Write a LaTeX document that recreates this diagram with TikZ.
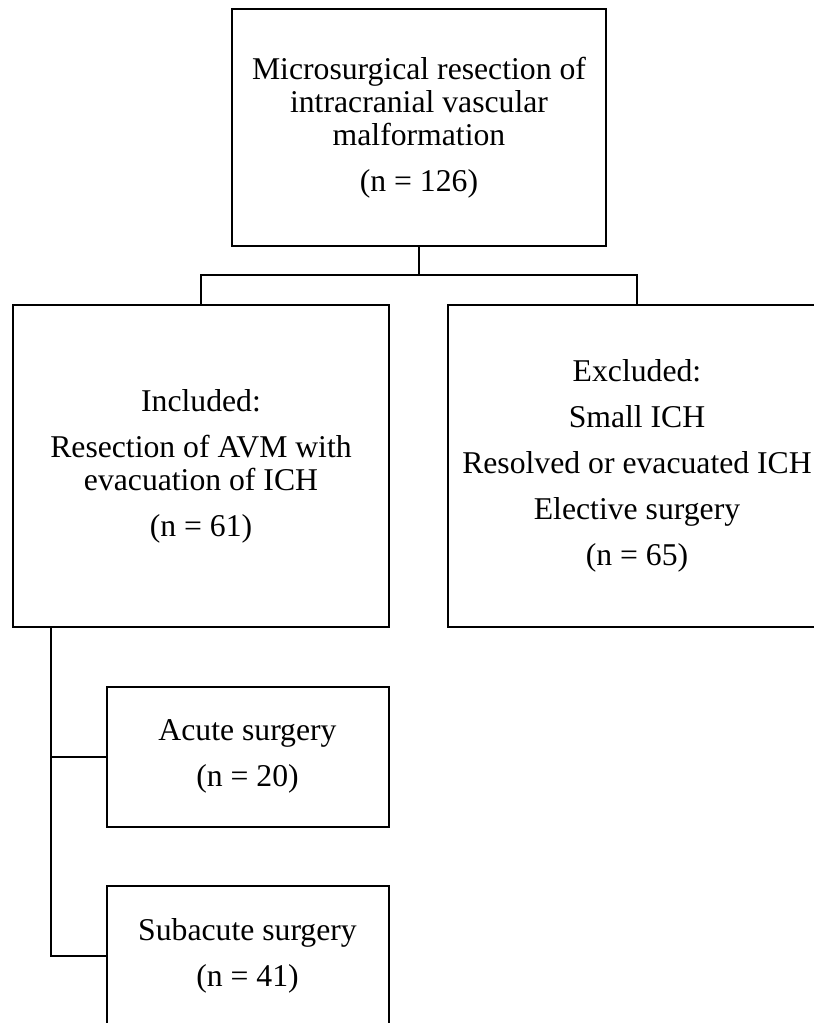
\documentclass[tikz,border=0pt]{standalone}
\usepackage{fontspec}
\setmainfont{Liberation Serif}
\usetikzlibrary{positioning}

\begin{document}
\begin{tikzpicture}[x=1pt,y=-1pt,
  box/.style={draw=black,line width=2pt,align=center,inner sep=0pt,
    font=\fontsize{31.7}{33}\selectfont},
  link/.style={draw=black,line width=2pt}]
\useasboundingbox (0,0) rectangle (814,1023);
\clip (0,0) rectangle (814,1023);
\node [box,minimum width=374pt,minimum height=237pt] (top) at (419,127.5) {Microsurgical resection of\\intracranial vascular\\malformation\\[13pt](n = 126)};
\node [box,minimum width=376pt,minimum height=322pt] (inc) at (201,466) {Included:\\[13pt]Resection of AVM with\\evacuation of ICH\\[13pt](n = 61)};
\node [box,minimum width=378pt,minimum height=322pt] (exc) at (637,466) {Excluded:\\[13pt]Small ICH\\[13pt]Resolved or evacuated ICH\\[13pt]Elective surgery\\[13pt](n = 65)};
\node [box,minimum width=282pt,minimum height=140pt] (acute) at (247.5,756.7) {Acute surgery\\[13pt](n = 20)};
\node [box,minimum width=282pt,minimum height=140pt] (sub) at (247.5,956) {Subacute surgery\\[13pt](n = 41)};
\coordinate (split) at (419,275);
\coordinate (trunk) at (50.7,627);
\draw [link] (top) -- (split);
\draw [link] (inc.north) |- (split) -| (exc.north);
\draw [link] (trunk) |- (acute.west);
\draw [link] (trunk) |- (sub.west);
\end{tikzpicture}
\end{document}
